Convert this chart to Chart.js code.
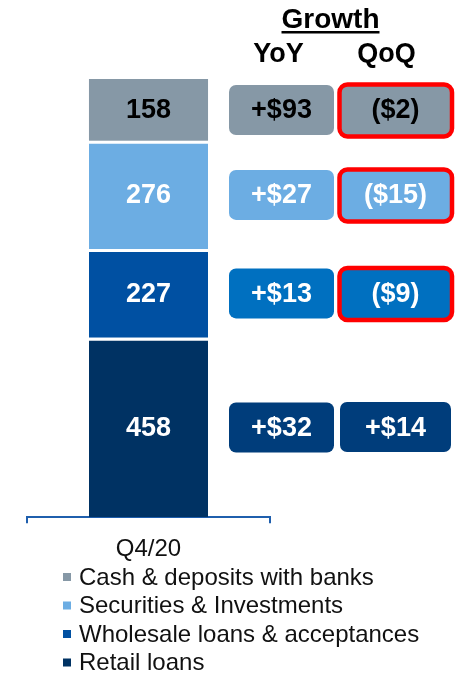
<!DOCTYPE html>
<html>
<head>
<meta charset="utf-8">
<script src="https://cdn.jsdelivr.net/npm/chart.js@4.4.1/dist/chart.umd.min.js"></script>
<style>
  html, body { margin: 0; padding: 0; background: #fff; }
  #wrap { width: 459px; height: 675px; position: relative; }
</style>
</head>
<body>
<div id="wrap"><canvas id="chart"></canvas></div>
<script>
// data (stack order: bottom to top)
const categories = ['Q4/20'];
const seriesNames = ['Retail loans', 'Wholesale loans & acceptances', 'Securities & Investments', 'Cash & deposits with banks'];
const balances = [458, 227, 276, 158];
const yoyGrowth = [32, 13, 27, 93];
const qoqGrowth = [14, -9, -15, -2];

const barColors = ['#003263', '#0050A2', '#6CADE3', '#8698A6'];
const boxColors = ['#003D7B', '#0070C0', '#6CADE3', '#8698A6'];
const FONT = "'Liberation Sans', Arial, sans-serif";

const fmt = v => v >= 0 ? '+$' + v : '($' + (-v) + ')';

// segment labels, growth boxes, header and legend
const growthPlugin = {
    id: 'growth',
    afterDraw(chart) {
        const ctx = chart.ctx;
        ctx.save();
        ctx.textAlign = 'center';
        ctx.textBaseline = 'middle';

        chart.data.datasets.forEach((ds, i) => {
            const bar = chart.getDatasetMeta(i).data[0];
            const mid = (bar.y + bar.base) / 2;
            const textColor = i === 3 ? '#000' : '#fff';

            ctx.font = 'bold 27px ' + FONT;
            ctx.fillStyle = textColor;
            ctx.fillText(String(ds.data[0]), bar.x, mid + 1);

            // YoY box
            ctx.fillStyle = boxColors[i];
            ctx.beginPath();
            ctx.roundRect(229, mid - 25, 105, 50, 7);
            ctx.fill();
            ctx.fillStyle = textColor;
            ctx.fillText(fmt(yoyGrowth[i]), 281.5, mid + 1);

            // QoQ box, red outline when negative
            const q = qoqGrowth[i];
            if (q < 0) {
                ctx.fillStyle = boxColors[i];
                ctx.strokeStyle = '#FF0000';
                ctx.lineWidth = 4.5;
                ctx.beginPath();
                ctx.roundRect(339.5, mid - 25.5, 112.5, 52, 8);
                ctx.fill();
                ctx.stroke();
            } else {
                ctx.fillStyle = boxColors[i];
                ctx.beginPath();
                ctx.roundRect(340, mid - 25.5, 111, 50, 7);
                ctx.fill();
            }
            ctx.fillStyle = textColor;
            ctx.fillText(fmt(q), 395.5, mid + 1);
        });

        // header
        ctx.fillStyle = '#000';
        ctx.font = 'bold 28px ' + FONT;
        ctx.textBaseline = 'alphabetic';
        ctx.fillText('Growth', 330.5, 28);
        const w = ctx.measureText('Growth').width;
        ctx.fillRect(330.5 - w / 2, 31, w, 2.5);
        ctx.font = 'bold 27px ' + FONT;
        ctx.fillText('YoY', 278.5, 62);
        ctx.fillText('QoQ', 386.5, 62);

        // legend, top segment first
        ctx.textAlign = 'left';
        ctx.textBaseline = 'middle';
        ctx.font = '24px ' + FONT;
        [3, 2, 1, 0].forEach((di, k) => {
            const ly = 577 + k * 28.5;
            ctx.fillStyle = barColors[di];
            ctx.fillRect(63, ly - 4, 8, 8);
            ctx.fillStyle = '#111';
            ctx.fillText(seriesNames[di], 79, ly + 1);
        });
        ctx.restore();
    }
};

new Chart(document.getElementById('chart'), {
    type: 'bar',
    data: {
        labels: categories,
        datasets: seriesNames.map((name, i) => ({
            label: name,
            data: [balances[i]],
            backgroundColor: barColors[i],
            borderColor: '#fff',
            borderWidth: i === 3 ? 0 : { top: 3, right: 0, bottom: 0, left: 0 },
            barPercentage: 0.49,
            categoryPercentage: 1
        }))
    },
    options: {
        responsive: true,
        maintainAspectRatio: false,
        animation: false,
        layout: { padding: { left: 27, right: 189, top: 79, bottom: 99 } },
        plugins: {
            legend: { display: false },
            tooltip: { enabled: false }
        },
        scales: {
            x: {
                stacked: true,
                grid: { display: true, drawOnChartArea: false, offset: true, tickLength: 6, color: '#1F5FAD', lineWidth: 2 },
                border: { display: true, color: '#1F5FAD', width: 2 },
                ticks: { color: '#111', font: { size: 24, family: FONT }, padding: 12 }
            },
            y: {
                stacked: true,
                display: false,
                min: 0,
                max: balances.reduce((a, b) => a + b, 0)
            }
        }
    },
    plugins: [growthPlugin]
});
</script>
</body>
</html>
